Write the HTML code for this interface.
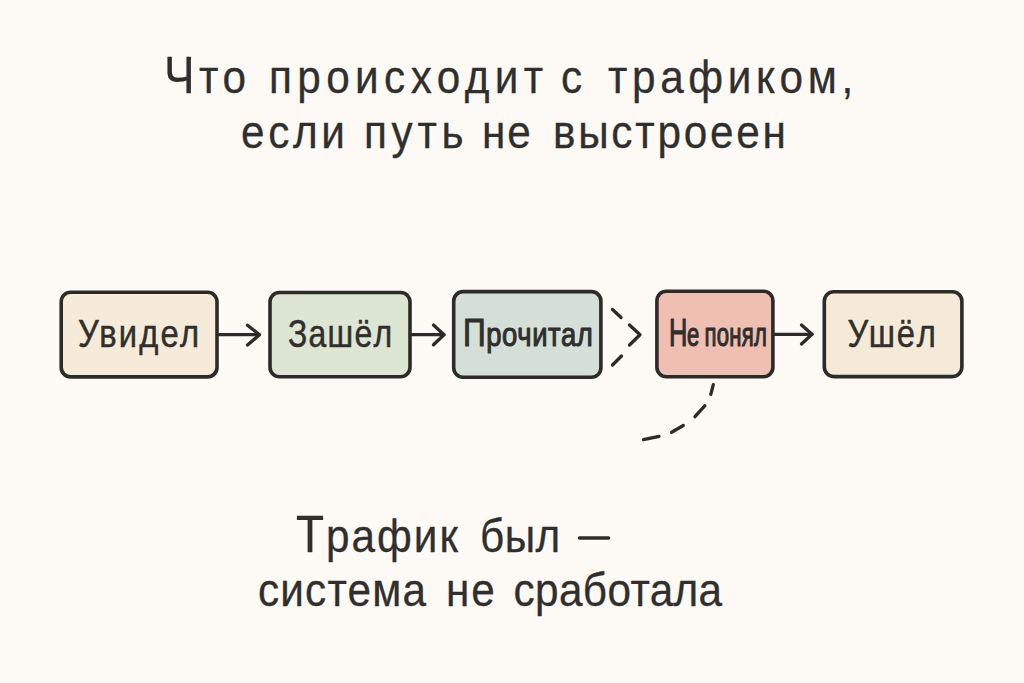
<!DOCTYPE html>
<html lang="ru">
<head>
<meta charset="utf-8">
<style>
html,body{margin:0;padding:0;}
body{width:1024px;height:683px;background:#fdf9f4;overflow:hidden;position:relative;font-family:"Liberation Sans",sans-serif;}
svg{position:absolute;left:0;top:0;}
svg text{font-family:"Liberation Sans",sans-serif;fill:#302f2e;stroke:#302f2e;stroke-linejoin:round;}
</style>
</head>
<body>
<svg width="1024" height="683" viewBox="0 0 1024 683">
  <g fill="none" stroke="#2c2b2a" stroke-width="3.6">
    <rect x="61.2" y="292.3" width="155.8" height="84.6" rx="9.5" fill="#f6ebd8"/>
    <rect x="270" y="292.5" width="140" height="84.3" rx="9.5" fill="#dde5d3"/>
    <rect x="453.7" y="291.6" width="147.2" height="85.6" rx="9.5" fill="#d4dfd8"/>
    <rect x="656.9" y="291.2" width="116" height="85.6" rx="9.5" fill="#efc0b1"/>
    <rect x="824.3" y="291.8" width="137.6" height="84.8" rx="9.5" fill="#f5ead7"/>
  </g>
  <g fill="none" stroke="#2c2b2a" stroke-width="3.3" stroke-linecap="round" stroke-linejoin="round">
    <path d="M219 334.7 H259"/><path d="M247.5 325.2 L259.5 334.8 L247.5 345"/>
    <path d="M412 334.7 H444"/><path d="M433.5 325 L444 334.7 L433.5 344.8"/>
    <path d="M775 334.3 H812"/><path d="M801.5 325 L812 334.3 L801.5 344"/>
    <path d="M612.5 309.5 L621 317.5"/>
    <path d="M629.5 325 L640 334.8 L629.5 345"/>
    <path d="M612.5 365 L621.5 356"/>
    <path d="M713.3 384.6 L710.8 394.3 M704.9 405.7 L695 416.7 M683.3 425.5 L671.6 432.3 M659 436.4 L643.5 439.6"/>
    <path d="M579.5 538 H608.5" stroke-width="3.6"/>
  </g>
  <text transform="translate(164.0,93) scale(0.9,1)" font-size="47" letter-spacing="5.0" stroke-width="0.3"><tspan font-size="51">Ч</tspan>то</text>
  <text transform="translate(269.0,93) scale(0.9,1)" font-size="47" letter-spacing="5.988" stroke-width="0.3">происходит</text>
  <text transform="translate(561.0,93) scale(0.9,1)" font-size="47" letter-spacing="0.0" stroke-width="0.3">с</text>
  <text transform="translate(608.0,93) scale(0.9,1)" font-size="47" letter-spacing="5.139" stroke-width="0.3">трафиком,</text>
  <text transform="translate(241.0,147.5) scale(0.9,1)" font-size="47" letter-spacing="4.074" stroke-width="0.3">если</text>
  <text transform="translate(364.0,147.5) scale(0.9,1)" font-size="47" letter-spacing="5.185" stroke-width="0.3">путь</text>
  <text transform="translate(482.0,147.5) scale(0.9,1)" font-size="47" letter-spacing="2.222" stroke-width="0.3">не</text>
  <text transform="translate(553.0,147.5) scale(0.9,1)" font-size="47" letter-spacing="3.056" stroke-width="0.3">выстроеен</text>
  <text transform="translate(296.0,552) scale(0.9,1)" font-size="47" letter-spacing="2.222" stroke-width="0.3"><tspan font-size="51">Т</tspan>рафик</text>
  <text transform="translate(480.0,552) scale(0.9,1)" font-size="47" letter-spacing="0.556" stroke-width="0.3">был</text>
  <text transform="translate(258.0,605.5) scale(0.9,1)" font-size="47" letter-spacing="1.296" stroke-width="0.3">система</text>
  <text transform="translate(446.0,605.5) scale(0.9,1)" font-size="47" letter-spacing="2.222" stroke-width="0.3">не</text>
  <text transform="translate(513.5,605.5) scale(0.9,1)" font-size="47" letter-spacing="0.417" stroke-width="0.3">сработала</text>
  <text transform="translate(78.0,346.5) scale(0.84,1)" font-size="39" letter-spacing="2.619" stroke-width="0.5">Увидел</text>
  <text transform="translate(288.0,347) scale(0.82,1)" font-size="39" letter-spacing="1.515" stroke-width="0.5">Зашёл</text>
  <text transform="translate(463.0,346) scale(0.82,1)" font-size="33.5" letter-spacing="0.69" stroke-width="1.1"><tspan font-size="38.5">П</tspan>рочитал</text>
  <text transform="translate(669.0,346) scale(0.66,1)" font-size="33.5" letter-spacing="-0.714" stroke-width="1.2"><tspan font-size="38.5">Н</tspan>е</text>
  <text transform="translate(704.5,346) scale(0.66,1)" font-size="33.5" letter-spacing="0.37" stroke-width="1.2">понял</text>
  <text transform="translate(847.5,346.5) scale(0.84,1)" font-size="39" letter-spacing="2.2" stroke-width="0.5">Ушёл</text>
</svg>
</body>
</html>
